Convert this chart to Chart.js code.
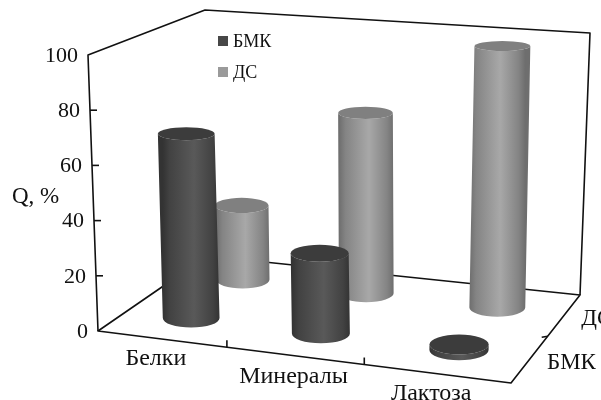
<!DOCTYPE html>
<html>
<head>
<meta charset="utf-8">
<title>Q, %</title>
<script src="https://cdn.jsdelivr.net/npm/chart.js@4/dist/chart.umd.min.js"></script>
<style>
  html, body { margin: 0; padding: 0; background: #fff; }
  canvas { display: block; }
</style>
</head>
<body>
<canvas id="chart" width="601" height="400"></canvas>
<script>
// chart data
const categories = ['Белки', 'Минералы', 'Лактоза'];
const seriesNames = ['БМК', 'ДС'];
const bmkValues = [68, 29, 2];
const dsValues = [29, 69, 98];
const valueTicks = [0, 20, 40, 60, 80, 100];

// 3d box corners on screen: front-left, front-right, back-right, back-left
const floorQuad = [[98, 331], [511, 383], [580, 295], [207, 256]];
const roofQuad = [[88, 55], [520, 89], [590, 33], [205, 10]];
const depthCenter = [0.25, 0.75];
const serifFont = '"Liberation Serif", "Times New Roman", serif';

// unit square -> quad perspective mapping
function makeHomography(q){
  const [x0,y0] = q[0], [x1,y1] = q[1], [x2,y2] = q[2], [x3,y3] = q[3];
  const dx1 = x1-x2, dx2 = x3-x2, sx = x0-x1+x2-x3;
  const dy1 = y1-y2, dy2 = y3-y2, sy = y0-y1+y2-y3;
  const den = dx1*dy2 - dx2*dy1;
  const g = (sx*dy2 - dx2*sy)/den, h = (dx1*sy - sx*dy1)/den;
  const a = x1-x0+g*x1, b = x3-x0+h*x3, d = y1-y0+g*y1, e = y3-y0+h*y3;
  return (u,v)=>{
    const w = g*u + h*v + 1;
    return [(a*u + b*v + x0)/w, (d*u + e*v + y0)/w];
  };
}
const floorAt = makeHomography(floorQuad);
const roofAt = makeHomography(roofQuad);

// u across categories, v into the depth, w up the value axis (all 0..1)
function project(u, v, w){
  const f = floorAt(u,v), r = roofAt(u,v);
  return [f[0] + (r[0]-f[0])*w, f[1] + (r[1]-f[1])*w];
}

// ellipses get rounder lower on the screen
function ellipseRy(y){ return 5 + (y-47)/60; }

function line(ctx, a, b){
  ctx.beginPath(); ctx.moveTo(a[0],a[1]); ctx.lineTo(b[0],b[1]); ctx.stroke();
}

function drawCylinder(ctx, area, bar, depthIndex, shades){
  const u = (bar.x - area.left)/area.width;
  const w = (area.bottom - bar.y)/area.height;
  const v = depthCenter[depthIndex];
  const base = project(u,v,0), top = project(u,v,w);
  const full = project(u,v,1);
  base[0] += 1.5; top[0] += 1.5;
  // narrower further back, same as the box itself
  const rx = bar.width/2 * (base[1]-full[1])/area.height;
  const ryTop = ellipseRy(top[1]), ryBase = ellipseRy(base[1]);

  const grad = ctx.createLinearGradient(base[0]-rx, 0, base[0]+rx, 0);
  grad.addColorStop(0, shades.edge);
  grad.addColorStop(0.12, shades.edgeIn);
  grad.addColorStop(0.55, shades.mid);
  grad.addColorStop(0.88, shades.edgeIn);
  grad.addColorStop(1, shades.edge);

  ctx.save();
  ctx.beginPath();
  ctx.moveTo(top[0]-rx, top[1]);
  ctx.lineTo(base[0]-rx, base[1]);
  ctx.ellipse(base[0], base[1], rx, ryBase, 0, Math.PI, 0, true);
  ctx.lineTo(top[0]+rx, top[1]);
  ctx.ellipse(top[0], top[1], rx, ryTop, 0, 0, Math.PI, false);
  ctx.closePath();
  ctx.fillStyle = grad;
  ctx.fill();
  ctx.beginPath();
  ctx.ellipse(top[0], top[1], rx, ryTop, 0, 0, Math.PI*2);
  ctx.fillStyle = shades.cap;
  ctx.fill();
  ctx.restore();
}

const shadeSets = [
  { edge:'#333333', edgeIn:'#424242', mid:'#595959', cap:'#3c3c3c' },
  { edge:'#6e6e6e', edgeIn:'#848484', mid:'#a8a8a8', cap:'#808080' }
];

// bars laid out by the normal bar controller, painted as cylinders
class CylinderController extends Chart.BarController {
  draw(){
    const ctx = this.chart.ctx, area = this.chart.chartArea;
    this._cachedMeta.data.forEach(bar=>{
      drawCylinder(ctx, area, bar, this.index, shadeSets[this.index]);
    });
  }
}
CylinderController.id = 'cylinder';
CylinderController.defaults = Chart.BarController.defaults;
CylinderController.overrides = Chart.BarController.overrides;
Chart.register(CylinderController);

// frame, ticks and labels in the skewed box
const boxPlugin = {
  id: 'box3d',
  beforeDatasetsDraw(chart){
    const ctx = chart.ctx, yScale = chart.scales.y, xScale = chart.scales.x, area = chart.chartArea;
    const wOf = val => (area.bottom - yScale.getPixelForValue(val))/area.height;
    ctx.save();
    ctx.strokeStyle = '#111';
    ctx.lineWidth = 1.6;
    ctx.lineJoin = 'round';
    // walls
    ctx.beginPath();
    ctx.moveTo(floorQuad[0][0], floorQuad[0][1]);
    ctx.lineTo(roofQuad[0][0], roofQuad[0][1]);
    ctx.lineTo(roofQuad[3][0], roofQuad[3][1]);
    ctx.lineTo(roofQuad[2][0], roofQuad[2][1]);
    ctx.lineTo(floorQuad[2][0], floorQuad[2][1]);
    ctx.stroke();
    // floor
    ctx.beginPath();
    floorQuad.forEach((p,i)=>{ i ? ctx.lineTo(p[0],p[1]) : ctx.moveTo(p[0],p[1]); });
    ctx.closePath();
    ctx.stroke();

    ctx.fillStyle = '#111';
    ctx.textBaseline = 'middle';
    ctx.font = '22px ' + serifFont;

    // value axis
    ctx.textAlign = 'right';
    yScale.ticks.forEach(t=>{
      const p = project(0,0,wOf(t.value));
      if (t.value > 0 && t.value < 100) line(ctx, p, [p[0]+7, p[1]]);
      ctx.fillText(String(t.value), p[0]-10, p[1]+1);
    });

    // category axis: labels spaced evenly along the front edge
    ctx.textAlign = 'center';
    ctx.font = '24px ' + serifFont;
    const [fl, fr] = floorQuad;
    categories.forEach((c,i)=>{
      const u = (xScale.getPixelForValue(i) - area.left)/area.width;
      ctx.fillText(c, fl[0] + (fr[0]-fl[0])*u - 11, fl[1] + (fr[1]-fl[1])*u + 19.5);
      if (i > 0){
        const t = project(i/categories.length,0,0);
        line(ctx, t, [t[0], t[1]-7]);
      }
    });

    // depth axis
    ctx.textAlign = 'left';
    ctx.font = '23px ' + serifFont;
    seriesNames.forEach((s,i)=>{
      const p = project(1,depthCenter[i],0);
      ctx.fillText(s, p[0]+17, p[1]+4);
    });
    const dt = project(1,0.5,0);
    line(ctx, dt, [dt[0]-6, dt[1]+1]);

    // axis title
    ctx.fillText('Q, %', 12, 197);

    // legend
    ctx.font = '18px ' + serifFont;
    seriesNames.forEach((s,i)=>{
      const y = 41 + i*31;
      ctx.fillStyle = i === 0 ? '#474747' : '#9a9a9a';
      ctx.fillRect(218, y-5, 10, 10);
      ctx.fillStyle = '#111';
      ctx.fillText(s, 233, y+1);
    });
    ctx.restore();
  }
};

new Chart(document.getElementById('chart').getContext('2d'), {
  type: 'cylinder',
  data: {
    labels: categories,
    datasets: [
      { label: seriesNames[0], data: bmkValues, clip: false },
      { label: seriesNames[1], data: dsValues, clip: false }
    ]
  },
  options: {
    responsive: false,
    animation: false,
    layout: { padding: { left: 98, right: 90, top: 55, bottom: 69 } },
    categoryPercentage: 1,
    barPercentage: 0.42,
    scales: {
      x: { display: false, stacked: true },
      y: { display: false, min: 0, max: 100, afterBuildTicks(scale){ scale.ticks = valueTicks.map(v=>({ value: v })); } }
    },
    plugins: { legend: { display: false }, tooltip: { enabled: false } }
  },
  plugins: [boxPlugin]
});
</script>
</body>
</html>
